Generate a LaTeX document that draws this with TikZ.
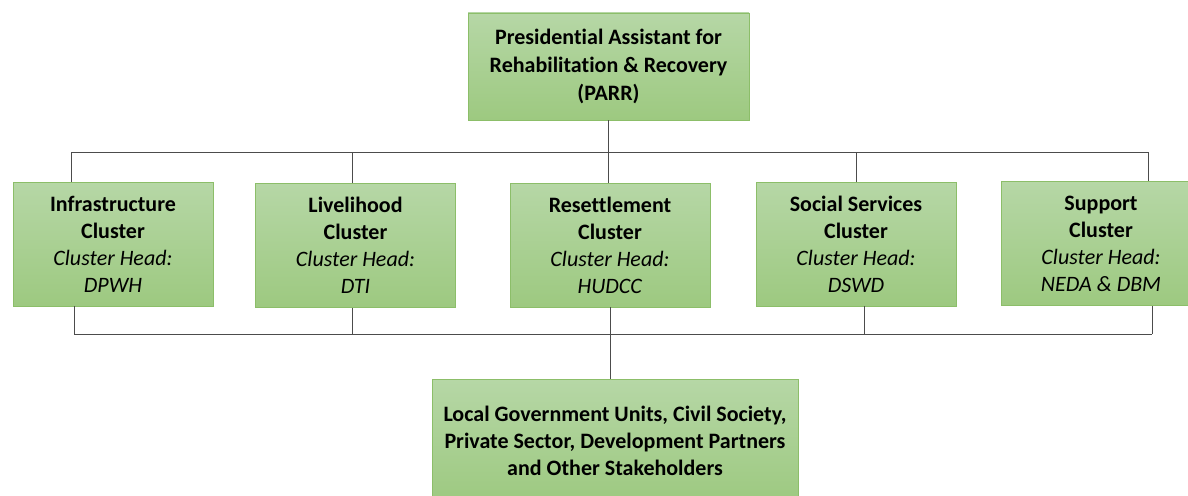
\documentclass[tikz,border=0pt]{standalone}
\usepackage{fontspec}
\setmainfont[Ligatures=NoCommon]{Carlito}
\definecolor{boxtop}{RGB}{182,215,166}
\definecolor{boxbot}{RGB}{157,201,128}
\definecolor{boxline}{RGB}{140,190,105}
\newcommand{\clustertext}[3]{\textbf{#1}\\\textbf{#2}\\\textit{Cluster Head:}\\\textit{#3}}
\tikzset{
	unit/.style={draw=boxline, line width=0.8pt, top color=boxtop, bottom color=boxbot, align=center, inner sep=0pt, font=\fontsize{22}{27}\selectfont},
	cluster/.style={unit, minimum width=200pt, minimum height=124pt},
	link/.style={draw=black!70, line width=1pt}
}

\begin{document}
\begin{tikzpicture}[x=1pt, y=-1pt]
	\clip (0,0) rectangle (1188,495);

	\node[unit, minimum width=281pt, minimum height=107pt, font=\fontsize{22}{28}\selectfont\bfseries] (parr) at (608.5,66.5) {Presidential Assistant for\\Rehabilitation \& Recovery\\(PARR)};

	\node[cluster] (infra)    at (113,244)    {\clustertext{Infrastructure}{Cluster}{DPWH}};
	\node[cluster] (liveli)   at (355.5,245.5) {\clustertext{Livelihood}{Cluster}{DTI}};
	\node[cluster] (resettle) at (610,245)    {\clustertext{Resettlement}{Cluster}{HUDCC}};
	\node[cluster] (social)   at (856,244)    {\clustertext{Social Services}{Cluster}{DSWD}};
	\node[cluster] (support)  at (1101,243.5) {\clustertext{Support}{Cluster}{NEDA \& DBM}};

	\node[unit, minimum width=366pt, minimum height=124pt, font=\fontsize{22}{27}\selectfont\bfseries] (lgu) at (615,441) {Local Government Units, Civil Society,\\Private Sector, Development Partners\\and Other Stakeholders};

	\coordinate (topL) at (71,152);
	\coordinate (topR) at (1148,152);
	\coordinate (botL) at (74,334);
	\coordinate (botR) at (1152,334);

	\draw[link] (parr.south) -- (parr.south |- resettle.north);
	\draw[link] (topL) -- (topR);
	\draw[link] (topL) -- (topL |- infra.north);
	\draw[link] ([xshift=-3pt]liveli.north) -- ([xshift=-3pt]liveli.north |- topL);
	\draw[link] (social.north) -- (social.north |- topL);
	\draw[link] (topR) -- (topR |- support.north);

	\draw[link] (botL) -- (botR);
	\draw[link] (botL) -- (botL |- infra.south);
	\draw[link] ([xshift=-3pt]liveli.south) -- ([xshift=-3pt]liveli.south |- botL);
	\draw[link] ([xshift=8pt]social.south) -- ([xshift=8pt]social.south |- botL);
	\draw[link] (botR) -- (botR |- support.south);
	\draw[link] (resettle.south) -- (resettle.south |- lgu.north);
\end{tikzpicture}
\end{document}
